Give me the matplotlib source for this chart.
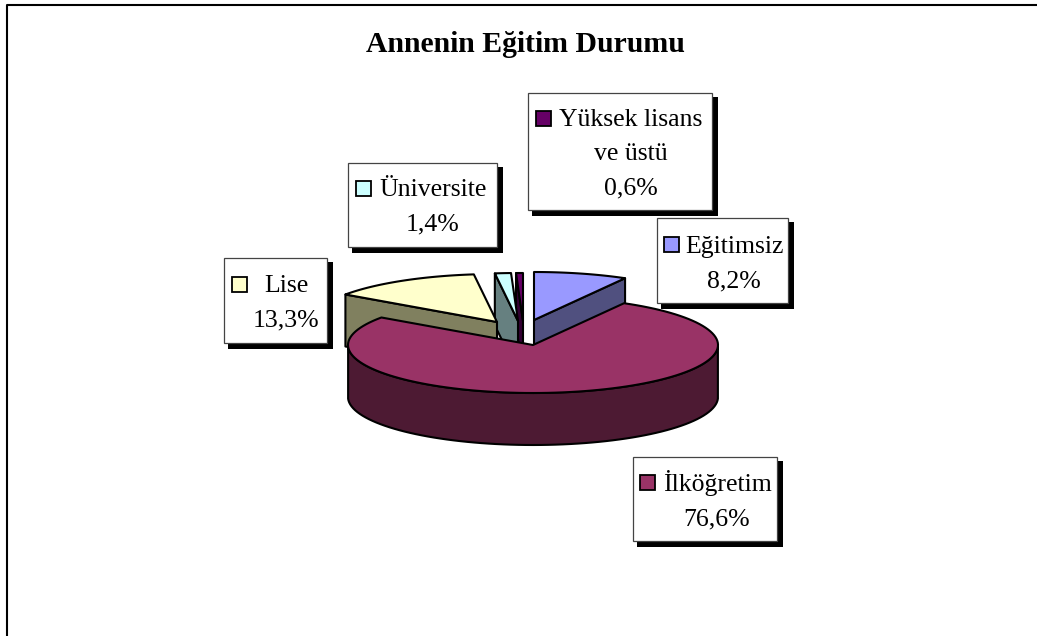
import numpy as np
import matplotlib
matplotlib.use("Agg")
import matplotlib.pyplot as plt
from matplotlib.patches import Polygon, Rectangle

plt.rcParams['font.family'] = ['Liberation Serif', 'DejaVu Serif']

# Veriler
kategoriler = ["Eğitimsiz", "İlköğretim", "Lise", "Üniversite", "Yüksek lisans\nve üstü"]
degerler = [8.2, 76.6, 13.3, 1.4, 0.6]
etiketler = ["8,2%", "76,6%", "13,3%", "1,4%", "0,6%"]

ust_renk = ["#9999ff", "#993366", "#ffffcc", "#ccffff", "#660066"]
yan_renk = ["#50507f", "#4d1a33", "#80805f", "#668080", "#330033"]

# pie geometry in pixels
rx, ry, derinlik = 185, 48, 52
merkezler = [(534, 320), (533, 345), (497, 322), (518, 321), (523, 321)]
# label boxes: left, top, right, bottom, swatch x, swatch center y, text center x, first baseline
kutular = [(657, 218, 788, 303, 664, 244, 734, 253),
           (633, 457, 777, 541, 640, 482, 717, 491),
           (224, 258, 327, 343, 232, 284, 286, 292),
           (348, 163, 497, 247, 356, 188, 433, 196),
           (528, 93, 712, 210, 536, 118, 631, 126)]

fig = plt.figure(figsize=(10.37, 6.36), dpi=100)
ax = fig.add_axes([0, 0, 1, 1])
ax.set_xlim(0, 1037)
ax.set_ylim(636, 0)
ax.axis("off")

# chart area border
ax.plot([6.5, 6.5, 1037], [636, 4.5, 4.5], color="black", lw=1.5)

ax.text(525.5, 52, "Annenin Eğitim Durumu", ha="center", va="baseline",
        fontsize=21.4, fontweight="bold")


def nokta(merkez, aci):
    return (merkez[0] + rx * np.sin(aci), merkez[1] - ry * np.cos(aci))


def dilim_ciz(i, bas, bit):
    m = merkezler[i]
    t = np.linspace(bas, bit, 120)
    kx = m[0] + rx * np.sin(t)
    ky = m[1] - ry * np.cos(t)
    kw = dict(edgecolor="black", lw=1.5, joinstyle="round")
    # inner walls, only those facing the viewer
    duvarlar = []
    if bas > np.pi:
        duvarlar.append(bas)
    if bit < np.pi:
        duvarlar.append(bit)
    for a in duvarlar:
        p = nokta(m, a)
        ax.add_patch(Polygon([m, p, (p[0], p[1] + derinlik), (m[0], m[1] + derinlik)],
                             facecolor=yan_renk[i], **kw))
    # outer wall, only the part facing the viewer
    on = t[(t >= np.pi / 2) & (t <= 3 * np.pi / 2)]
    if len(on):
        ox = m[0] + rx * np.sin(on)
        oy = m[1] - ry * np.cos(on)
        ax.add_patch(Polygon(np.r_[np.c_[ox, oy], np.c_[ox, oy + derinlik][::-1]],
                             facecolor=yan_renk[i], **kw))
    ax.add_patch(Polygon(np.r_[[m], np.c_[kx, ky]], facecolor=ust_renk[i], **kw))


sinirlar = np.r_[0, np.cumsum(degerler)] / sum(degerler) * 2 * np.pi
# back slices first, the big front slice last
for i in [4, 3, 2, 0, 1]:
    dilim_ciz(i, sinirlar[i], sinirlar[i + 1])

for i, (x0, y0, x1, y1, sx, sy, tx, ty) in enumerate(kutular):
    ax.add_patch(Rectangle((x0 + 4, y0 + 4), x1 - x0 + 2, y1 - y0 + 2, facecolor="black", edgecolor="none", zorder=5))
    ax.add_patch(Rectangle((x0, y0), x1 - x0, y1 - y0, facecolor="white", edgecolor="#444444", lw=0.9, zorder=6))
    ax.add_patch(Rectangle((sx, sy - 7.5), 15, 15, facecolor=ust_renk[i], edgecolor="black", lw=1.3, zorder=7))
    satirlar = kategoriler[i].split("\n") + [etiketler[i]]
    for j, s in enumerate(satirlar):
        ax.text(tx, ty + j * 34, s, ha="center", va="baseline", fontsize=18.5, zorder=8)

fig.savefig("out.png", dpi=100)
